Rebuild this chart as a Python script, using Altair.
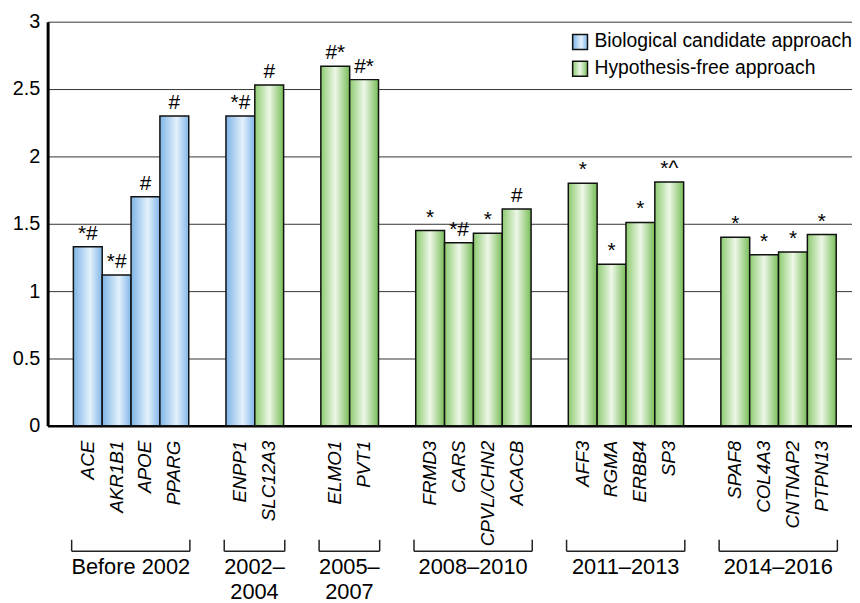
import altair as alt
import pandas as pd

genes = ["ACE", "AKR1B1", "APOE", "PPARG", "ENPP1", "SLC12A3", "ELMO1", "PVT1",
         "FRMD3", "CARS", "CPVL/CHN2", "ACACB", "AFF3", "RGMA", "ERBB4", "SP3",
         "SPAF8", "COL4A3", "CNTNAP2", "PTPN13"]
values = [1.33, 1.12, 1.70, 2.30, 2.30, 2.53, 2.67, 2.57,
          1.45, 1.36, 1.43, 1.61, 1.80, 1.20, 1.51, 1.81,
          1.40, 1.27, 1.29, 1.42]
BIO = "Biological candidate approach"
HYP = "Hypothesis-free approach"
approaches = [BIO, BIO, BIO, BIO, BIO, HYP, HYP, HYP,
              HYP, HYP, HYP, HYP, HYP, HYP, HYP, HYP,
              HYP, HYP, HYP, HYP]
periods = ["Before 2002"] * 4 + ["2002–\n2004"] * 2 + ["2005–\n2007"] * 2 + \
          ["2008–2010"] * 4 + ["2011–2013"] * 4 + ["2014–2016"] * 4
annotations = ["*#", "*#", "#", "#", "*#", "#", "#*", "#*",
               "*", "*#", "*", "#", "*", "*", "*", "*^",
               "*", "*", "*", "*"]
legend_labels = [BIO, HYP]

# layout: bars are one unit wide, groups separated by a uniform gap
GAP = 1.29
period_order = list(dict.fromkeys(periods))
rows = []
for i, g in enumerate(genes):
    gi = period_order.index(periods[i])
    left = i + gi * GAP
    rows.append(dict(gene=g, value=values[i], approach=approaches[i],
                     period=periods[i], note=annotations[i],
                     left=left, right=left + 1, center=left + 0.5))
df = pd.DataFrame(rows)
grp = df.groupby("period", sort=False).agg(gl=("left", "min"), gr=("right", "max")).reset_index()
grp["gl"] = grp["gl"] - 0.06
grp["gr"] = grp["gr"] + 0.04
grp["gc"] = (grp["gl"] + grp["gr"]) / 2

FONT = "Liberation Sans"

xscale = alt.Scale(domain=[-0.893, 26.997], nice=False, zero=False)
yscale = alt.Scale(domain=[0, 3], nice=False)

def grad(edge_l, mid, edge_r, mid_off):
    return alt.LinearGradient(
        gradient="linear", x1=0, x2=1, y1=0, y2=0,
        stops=[alt.GradientStop(offset=0, color=edge_l),
               alt.GradientStop(offset=mid_off, color=mid),
               alt.GradientStop(offset=1, color=edge_r)])

blue = grad("#7db4e6", "#e4f1fc", "#80b6e8", 0.58)
green = grad("#8ccb70", "#eef7e8", "#78bd58", 0.5)

base = alt.Chart(df)

xenc = alt.X("left:Q", scale=xscale,
             axis=alt.Axis(labels=False, ticks=False, grid=False, title=None,
                           domainColor="#000", domainWidth=2.5))
yenc = alt.Y("value:Q", scale=yscale,
             axis=alt.Axis(values=[0, 0.5, 1, 1.5, 2, 2.5, 3], title=None,
                           labelExpr="'' + datum.value", ticks=False,
                           labelPadding=8, labelFontSize=20, labelFont=FONT,
                           labelColor="#000", domainColor="#000", domainWidth=3,
                           grid=True, gridColor="#333", gridWidth=1))

bars_bio = base.transform_filter(alt.datum.approach == BIO).mark_bar(
    fill=blue, stroke="#111", strokeWidth=1.5).encode(
    x=xenc, x2="right:Q", y=yenc, y2=alt.datum(0))
bars_hyp = base.transform_filter(alt.datum.approach == HYP).mark_bar(
    fill=green, stroke="#111", strokeWidth=1.5).encode(
    x=alt.X("left:Q", scale=xscale), x2="right:Q",
    y=alt.Y("value:Q", scale=yscale), y2=alt.datum(0))

notes = base.mark_text(font=FONT, fontSize=21, baseline="alphabetic",
                       align="center", dy=-7, color="#000").encode(
    x=alt.X("center:Q", scale=xscale), y=alt.Y("value:Q", scale=yscale),
    text="note:N")

gene_labels = base.mark_text(font=FONT, fontSize=19, fontStyle="italic",
                             angle=270, align="right", baseline="middle",
                             color="#000").encode(
    x=alt.X("center:Q", scale=xscale), y=alt.value(423), text="gene:N")

gbase = alt.Chart(grp)
br_h = gbase.mark_rule(color="#222", strokeWidth=1.5).encode(
    x=alt.X("gl:Q", scale=xscale), x2="gr:Q", y=alt.value(534.5))
br_l = gbase.mark_rule(color="#222", strokeWidth=1.5).encode(
    x=alt.X("gl:Q", scale=xscale), y=alt.value(523), y2=alt.value(534.5))
br_r = gbase.mark_rule(color="#222", strokeWidth=1.5).encode(
    x=alt.X("gr:Q", scale=xscale), y=alt.value(523), y2=alt.value(534.5))
glabels = gbase.mark_text(font=FONT, fontSize=22, align="center",
                          baseline="alphabetic", lineBreak="\n", lineHeight=25,
                          color="#000").encode(
    x=alt.X("gc:Q", scale=xscale), y=alt.value(558), text="period:N")

leg_df = pd.DataFrame({"label": legend_labels})
leg1 = alt.Chart(leg_df).transform_filter(alt.datum.label == BIO).mark_rect(
    fill=blue, stroke="#111", strokeWidth=1.5).encode(
    x=alt.value(530), x2=alt.value(545), y=alt.value(13), y2=alt.value(28))
leg2 = alt.Chart(leg_df).transform_filter(alt.datum.label == HYP).mark_rect(
    fill=green, stroke="#111", strokeWidth=1.5).encode(
    x=alt.value(530), x2=alt.value(545), y=alt.value(40), y2=alt.value(55))
legt1 = alt.Chart(leg_df).transform_filter(alt.datum.label == BIO).mark_text(
    font=FONT, fontSize=19.5, align="left", baseline="middle", color="#000").encode(
    x=alt.value(552), y=alt.value(20), text="label:N")
legt2 = alt.Chart(leg_df).transform_filter(alt.datum.label == HYP).mark_text(
    font=FONT, fontSize=19.5, align="left", baseline="middle", color="#000").encode(
    x=alt.value(552), y=alt.value(47), text="label:N")

chart = alt.layer(bars_bio, bars_hyp, notes, gene_labels, br_h, br_l, br_r,
                  glabels, leg1, leg2, legt1, legt2).properties(
    width=812, height=408,
    padding={"left": 40, "top": 11, "right": 0, "bottom": 176},
    autosize="none", background="white"
).configure_view(stroke=None)

chart.save("out.html", embed_options={"renderer": "svg", "actions": False})
